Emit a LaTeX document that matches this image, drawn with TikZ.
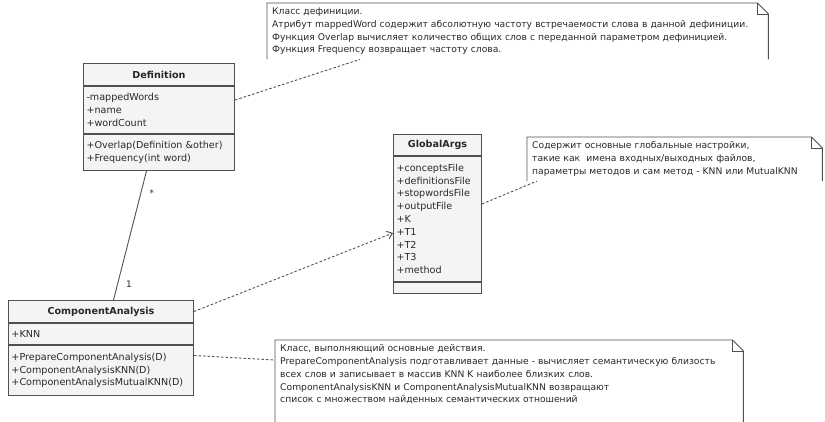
\documentclass[tikz,border=0pt]{standalone}
\usepackage{fontspec}
\setmainfont{DejaVu Sans}
\usetikzlibrary{positioning,arrows.meta}
\definecolor{umlline}{RGB}{80,80,80}
\definecolor{umlfill}{RGB}{244,244,244}
\definecolor{umltext}{RGB}{40,40,40}

\begin{document}
\begin{tikzpicture}[x=1pt,y=-1pt,
  umlbox/.style 2 args={draw=umlline,fill=umlfill,line width=1pt,text width=#1pt,
                minimum height=#2pt,inner xsep=3pt,inner ysep=1pt,align=left,
                text=umltext,font=\fontsize{9.6}{12.8}\selectfont},
  umlhead/.style 2 args={umlbox={#1}{#2},align=center,
                font=\fontsize{9.6}{12.8}\selectfont\bfseries},
  notebox/.style={anchor=north west,align=left,inner xsep=5pt,inner ysep=4.5pt,
                text=umltext,font=\fontsize{9.2}{12.8}\selectfont},
  notelink/.style={umlline,line width=0.9pt,dash pattern=on 2.5pt off 2pt}]
  \useasboundingbox (0,0) rectangle (825,422);
  % классы
  \node[umlhead={145}{22},anchor=north west] (defHead) at (83,63) {Definition};
  \node[umlbox={145}{47},below=0pt of defHead] (defAttr) {-mappedWords\\+name\\+wordCount};
  \node[umlbox={145}{36},below=0pt of defAttr] (defOps) {+Overlap(Definition \&other)\\+Frequency(int word)};

  \node[umlhead={82}{21},anchor=north west] (argHead) at (393,134) {GlobalArgs};
  \node[umlbox={82}{125},below=0pt of argHead] (argAttr) {+conceptsFile\\+definitionsFile\\+stopwordsFile\\+outputFile\\+K\\+T1\\+T2\\+T3\\+method};
  \node[umlbox={82}{11},below=0pt of argAttr] (argOps) {};

  \node[umlhead={179}{22},anchor=north west] (caHead) at (8,300) {ComponentAnalysis};
  \node[umlbox={179}{21},below=0pt of caHead] (caAttr) {+KNN};
  \node[umlbox={179}{50},below=0pt of caAttr] (caOps) {+PrepareComponentAnalysis(D)\\+ComponentAnalysisKNN(D)\\+ComponentAnalysisMutualKNN(D)};

  % комментарии
  \node[notebox,text width=491pt] (defNote) at (267,3) {Класс дефиниции.\\Атрибут mappedWord содержит абсолютную частоту встречаемости слова в данной дефиниции.\\Функция Overlap вычисляет количество общих слов с переданной параметром дефиницией.\\Функция Frequency возвращает частоту слова.};
  \node[notebox,text width=285pt] (argNote) at (527,137) {Содержит основные глобальные настройки,\\такие как\ \ имена входных/выходных файлов,\\параметры методов и сам метод - KNN или MutualKNN};
  \node[notebox,text width=458pt] (caNote) at (275,340) {Класс, выполняющий основные действия.\\PrepareComponentAnalysis подготавливает данные - вычисляет семантическую близость\\всех слов и записывает в массив KNN K наиболее близких слов.\\ComponentAnalysisKNN и ComponentAnalysisMutualKNN возвращают\\список с множеством найденных семантических отношений};
  \foreach \n/\ext in {defNote/0,argNote/0,caNote/30}{
    \draw[umlline,line width=0.9pt] ([yshift=-\ext pt]\n.south west) -- (\n.north west)
      -- ([xshift=-11pt]\n.north east) -- ([yshift=-11pt]\n.north east)
      -- ([yshift=-\ext pt]\n.south east);
    \draw[umlline,line width=0.6pt] ([xshift=-11pt]\n.north east) -- ++(0,11) -- ++(11,0);
  }

  % связи
  \draw[umlline,line width=0.9pt] ([xshift=-12.5pt]defOps.south)
    -- node[pos=0.17,right=5pt,text=umltext,font=\small] {*}
       node[pos=0.88,right=5pt,text=umltext,font=\small] {1} ([xshift=12.5pt]caHead.north);
  \draw[notelink,-{Straight Barb[length=5pt,width=8pt]}] (caHead.east) -- ([yshift=-14pt]argAttr.west);
  \draw[notelink] ([yshift=-14pt]defAttr.north east) -- ([xshift=93pt]defNote.south west);
  \draw[notelink] ([yshift=15pt]argAttr.east) -- ([xshift=10pt]argNote.south west);
  \draw[notelink] ([yshift=15pt]caOps.east) -- ([yshift=-20pt]caNote.north west);
\end{tikzpicture}
\end{document}
